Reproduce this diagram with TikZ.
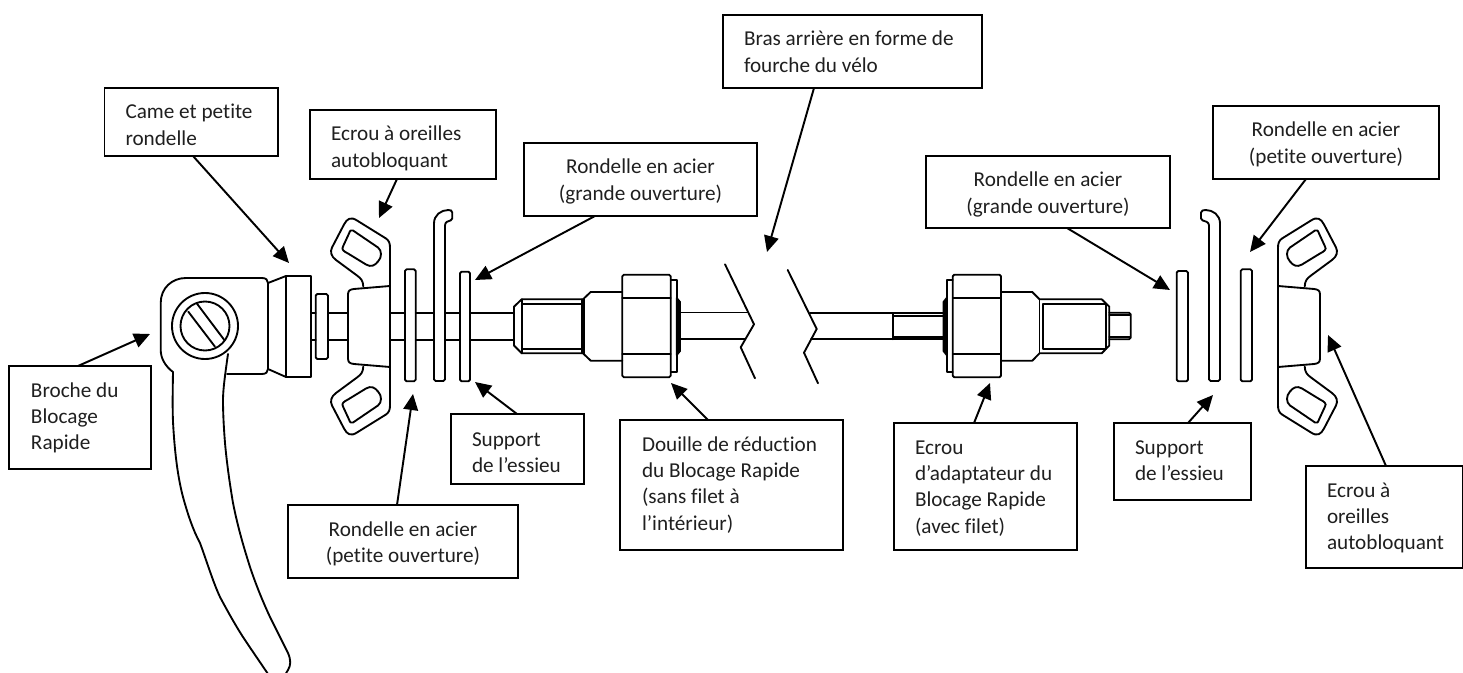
\documentclass[tikz,border=0pt]{standalone}
\usepackage{fontspec}
\setmainfont{Carlito}[Ligatures=NoCommon]
\usetikzlibrary{arrows.meta}
\newdimen\pxu \pxu=0.75pt
\newcommand\lab[8]{%
  \node[lbl] (#1) at (#2,#3) {\parbox[c][#5\pxu][t]{#4\pxu}{%
    \fontsize{15.9pt}{19.8pt}\selectfont
    \ifnum#6=0 \centering\else\raggedright\leftskip=#6\pxu\relax\fi
    \vspace*{\dimexpr#7\pxu-14pt\relax}\rule{0pt}{14pt}#8}};}
\newcommand\wingnut{%
  \foreach \ss in {1,-1}{%
    \begin{scope}[yscale=\ss]
      \draw[part] (-26.7,-40) .. controls (-27,-46) and (-29,-48) .. (-33,-51) -- (-54,-66.5)
        .. controls (-59,-70) and (-60,-75) .. (-58,-79) -- (-46,-102)
        .. controls (-43,-108) and (-39,-110) .. (-33,-106) -- (-4,-88)
        .. controls (-1,-86) and (0,-83) .. (0,-79);
      \draw[part] (-37,-96) -- (-12,-79) .. controls (-8,-76) and (-8,-69) .. (-12,-65)
        .. controls (-15,-61) and (-19,-59) .. (-24,-62) -- (-42,-73)
        .. controls (-46,-75) and (-49,-77) .. (-47,-80) -- (-41,-93)
        .. controls (-40,-96) and (-39,-97) .. (-37,-96) -- cycle;
      \draw[part] (0,-40.5) -- (-36,-37.5) .. controls (-40,-37) and (-42,-36) .. (-42,-32) -- (-42,0);
    \end{scope}}
  \draw[part] (0,-79) -- (0,79);}
\tikzset{
  x=0.75pt,y=-0.75pt,
  lbl/.style={draw=black,line width=1.35pt,inner sep=0pt,outer sep=0pt,anchor=north west,text=black!88},
  arr/.style={line width=1.45pt,-{Triangle[length=12pt,width=11pt]},black},
  part/.style={line width=1.4pt,line join=round,line cap=round,black},
  flat/.style={part,rounded corners=1.2pt},
}
\begin{document}
\begin{tikzpicture}
\useasboundingbox (0,0) rectangle (1463,673);
% ---- lever
\begin{scope}
\clip (0,0) rectangle (1463,673);
\draw[part] (173,372) .. controls (172.5,400) and (172.5,415) .. (173.3,427)
  .. controls (175,455) and (178,478) .. (183,497)
  .. controls (188,515) and (193,530) .. (200,543)
  .. controls (207,562) and (213,582) .. (220,597)
  .. controls (228,612) and (238,630) .. (247,643)
  .. controls (255,655) and (262,665) .. (270,677);
\draw[part] (228,354) .. controls (225,375) and (223,390) .. (223,400)
  .. controls (223,415) and (224,430) .. (225,443)
  .. controls (227,465) and (230,485) .. (233,503)
  .. controls (238,528) and (244,548) .. (250,567)
  .. controls (256,585) and (263,602) .. (270,617)
  -- (288,653) .. controls (291,660) and (291,665) .. (288,670) -- (285,675);
\end{scope}
% ---- cam body
\draw[part] (173,372) .. controls (165,366) and (160.7,358) .. (160.7,350) -- (160.7,303)
  .. controls (160.7,288) and (172,278) .. (186,278) -- (262,278)
  .. controls (266,278) and (268,280) .. (268,283) -- (268,369)
  .. controls (268,372) and (266,374) .. (262,374) -- (227,374);
\draw[part] (205,326) circle[radius=33];
\draw[part] (205,326) circle[radius=24.5];
\draw[part] (188.3,311.7) -- (215,346.7);
\draw[part] (196.7,303.3) -- (224.3,340);
\draw[part] (268,283) -- (286,276) -- (311,276) -- (311,377) -- (286,377) -- (268,369);
\draw[part] (286,276) -- (286,377);
\draw[flat] (315.7,294) rectangle (328,359);
% ---- rod left part
\foreach \yy in {313,340}{
  \draw[part] (311,\yy) -- (315.7,\yy);
  \draw[part] (328,\yy) -- (348,\yy);
  \draw[part] (390,\yy) -- (405,\yy);
  \draw[part] (415.7,\yy) -- (434,\yy);
  \draw[part] (445,\yy) -- (460,\yy);
  \draw[part] (470,\yy) -- (514,\yy);
}
% ---- wing nuts
\begin{scope}[shift={(390,326.5)}] \wingnut \end{scope}
\begin{scope}[shift={(1278,326.5)},xscale=-1] \wingnut \end{scope}
% ---- left washers and plate
\draw[flat] (405,269.3) rectangle (415.7,381.3);
\draw[flat] (460,271.7) rectangle (470,381.3);
\draw[flat] (434,381) -- (434,225) .. controls (434,215) and (441,210) .. (450,210)
  -- (452.3,211) -- (452.3,220) .. controls (448,221) and (445,222) .. (445,227) -- (445,381) -- cycle;
% ---- right washers and plate
\draw[flat] (1176.7,271) rectangle (1188,381.3);
\draw[flat] (1240.7,269.3) rectangle (1252,381.3);
\draw[flat] (1220,381) -- (1220,225) .. controls (1220,215) and (1213,210) .. (1204,210)
  -- (1201,211) -- (1201,220) .. controls (1205,221) and (1209,222) .. (1209,227) -- (1209,381) -- cycle;
% ---- left threaded bush
\draw[part] (514,306.7) -- (521.7,299.3) -- (583,299.3) -- (590.7,292) -- (622.3,292);
\draw[part] (514,345.5) -- (521.7,353.3) -- (583,353.3) -- (590.7,360.7) -- (622.3,360.7);
\draw[part] (514,306.7) -- (514,345.5);
\draw[part] (521.7,299.3) -- (521.7,353.3);
\draw[part] (521.7,304) -- (582,304);
\draw[part] (521.7,349) -- (582,349);
\draw[part] (581.7,299.3) -- (581.7,353.3);
\draw[part] (584,299.3) -- (584,353.3);
\draw[flat] (622.3,274.7) rectangle (670.7,377.3);
\draw[part] (622.3,298.3) -- (670.7,298.3);
\draw[part] (622.3,354) -- (670.7,354);
\draw[part] (670.7,280) -- (676.7,280) -- (676.7,371.7) -- (670.7,371.7);
\draw[part,fill=black] (676.7,298) -- (680,302) -- (680,351) -- (676.7,355) -- cycle;
\draw[part] (680,312.5) -- (748,312.5);
\draw[part] (680,339) -- (745,339);
% ---- break lines
\draw[part] (725,264.3) -- (754,324.3) -- (740.7,347.3) -- (755,378.3);
\draw[part] (787.7,270) -- (816.7,329) -- (804,352.7) -- (818,383.3);
% ---- right rod and nut
\draw[part,line width=1.2pt] (810,313) -- (893,313);
\draw[part,line width=1.2pt] (811,339) -- (893,339);
\draw[part] (893,313) -- (943,313);
\draw[part] (893,316) -- (943,316);
\draw[part] (893,336.7) -- (943,336.7);
\draw[part] (893,339.3) -- (943,339.3);
\draw[part] (893,313) -- (893,339.3);
\draw[part,fill=black] (946.7,298) -- (943.5,302) -- (943.5,351) -- (946.7,355) -- cycle;
\draw[part] (952.7,280) -- (946.7,280) -- (946.7,371.7) -- (952.7,371.7);
\draw[flat] (952.7,274.7) rectangle (1001,377.3);
\draw[part] (952.7,298.3) -- (1001,298.3);
\draw[part] (952.7,354) -- (1001,354);
\draw[part] (1001,292) -- (1032.3,292) -- (1039.5,299.3) -- (1101.7,299.3) -- (1109.3,306.7) -- (1109.3,345.5) -- (1101.7,353.3) -- (1039.5,353.3) -- (1032.3,360.7) -- (1001,360.7);
\draw[part] (1039.5,299.3) -- (1039.5,353.3);
\draw[part] (1043,304) -- (1106,304) -- (1106,349) -- (1043,349) -- cycle;
\draw[flat] (1109.3,312.7) -- (1130.7,312.7) -- (1130.7,339.3) -- (1109.3,339.3);
\draw[part] (1109.3,315.3) -- (1130,315.3);
\draw[part] (1109.3,336.7) -- (1130,336.7);
% ---- labels
\lab{came}{104.5}{88}{173.5}{68}{21}{31}{Came et petite\\rondelle}
\lab{ecrA}{310}{110}{186}{69}{21}{31}{Ecrou à oreilles\\autobloquant}
\lab{bras}{723}{15}{259}{73}{21}{31}{Bras arrière en forme de\\fourche du vélo}
\lab{rgA}{524}{143}{233}{73}{0}{31}{Rondelle en acier\\(grande ouverture)}
\lab{rgB}{926}{156}{244}{72}{0}{31}{Rondelle en acier\\(grande ouverture)}
\lab{rpB}{1213}{106}{226}{73}{0}{31}{Rondelle en acier\\(petite ouverture)}
\lab{broche}{9}{366}{142}{103}{22}{31}{Broche du\\Blocage\\Rapide}
\lab{rpA}{288}{505}{230}{73}{0}{31}{Rondelle en acier\\(petite ouverture)}
\lab{supA}{451}{414}{133}{70}{21}{32}{Support\\de l’essieu}
\lab{douille}{620}{420}{223}{130}{22}{31}{Douille de réduction\\du Blocage Rapide\\(sans filet à\\l’intérieur)}
\lab{ecrC}{894}{423}{183}{127}{21}{31}{Ecrou\\d’adaptateur du\\Blocage Rapide\\(avec filet)}
\lab{supB}{1114}{423}{137}{77}{21}{31}{Support\\de l’essieu}
\lab{ecrB}{1306}{466}{157}{102}{21}{31}{Ecrou à\\oreilles\\autobloquant}
% ---- arrows
\coordinate (t1) at (289,263);
\coordinate (t2) at (379,218);
\coordinate (t3) at (475,280);
\coordinate (t4) at (767,252);
\coordinate (t5) at (150,334);
\coordinate (t6) at (413,394);
\coordinate (t7) at (475,382);
\coordinate (t8) at (671,383);
\coordinate (t9) at (990,383);
\coordinate (t10) at (1170,290);
\coordinate (t11) at (1213,395);
\coordinate (t12) at (1250,252);
\coordinate (t13) at (1328,335);
\draw[arr] (came.south -| 193,0) -- (t1);
\draw[arr] (ecrA.south -| 397,0) -- (t2);
\draw[arr] (rgA.south -| 595,0) -- (t3);
\draw[arr] (bras.south -| 814,0) -- (t4);
\draw[arr] (broche.north -| 78,0) -- (t5);
\draw[arr] (rpA.north -| 397,0) -- (t6);
\draw[arr] (supA.north -| 517,0) -- (t7);
\draw[arr] (douille.north -| 708,0) -- (t8);
\draw[arr] (ecrC.north -| 974,0) -- (t9);
\draw[arr] (rgB.south -| 1067,0) -- (t10);
\draw[arr] (supB.north -| 1188,0) -- (t11);
\draw[arr] (rpB.south -| 1306,0) -- (t12);
\draw[arr] (ecrB.north -| 1386,0) -- (t13);
\end{tikzpicture}
\end{document}
